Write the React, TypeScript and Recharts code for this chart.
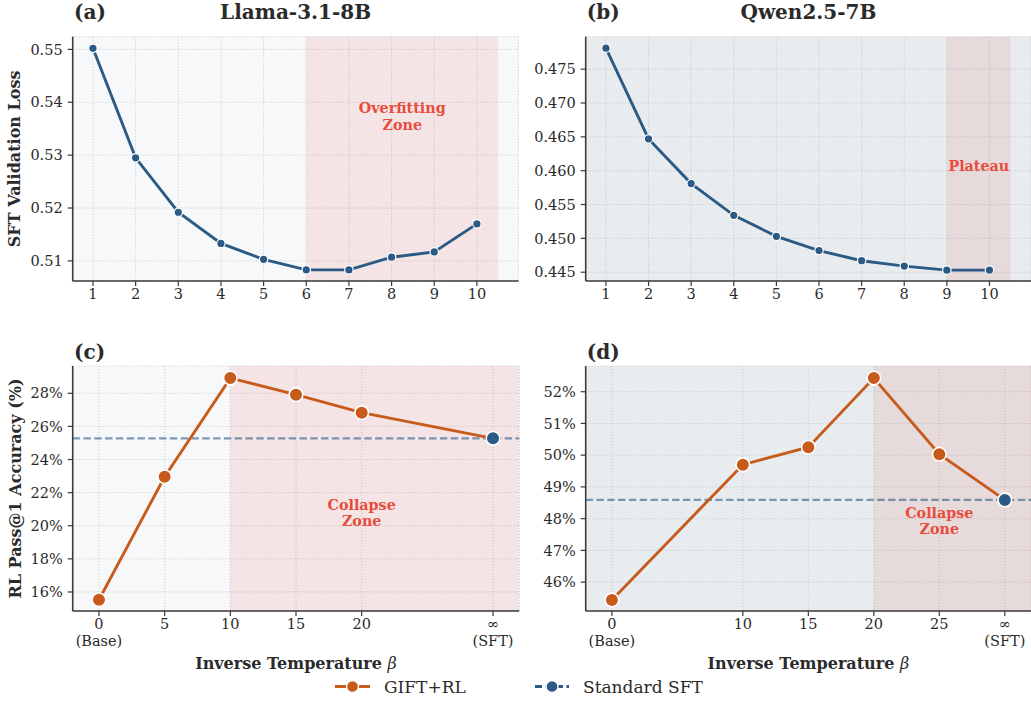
import React from 'react';
import {
  LineChart,
  Line,
  XAxis,
  YAxis,
  CartesianGrid,
  ReferenceArea,
  ReferenceLine,
  ReferenceDot,
} from 'recharts';

// ---------- data ----------
const sftBeta = [1, 2, 3, 4, 5, 6, 7, 8, 9, 10];
const llamaLoss = [0.5502, 0.5295, 0.5192, 0.5133, 0.5103, 0.5083, 0.5083, 0.5107, 0.5117, 0.517];
const qwenLoss = [0.4781, 0.4647, 0.4581, 0.4534, 0.4503, 0.4482, 0.4467, 0.4459, 0.4453, 0.4453];

const infPos = 30; // position of the "∞ (SFT)" tick
const llamaRlBeta = [0, 5, 10, 15, 20];
const llamaGift = [15.53, 22.96, 28.92, 27.92, 26.83];
const llamaSft = 25.28;
const qwenRlBeta = [0, 10, 15, 20, 25];
const qwenGift = [45.44, 49.7, 50.25, 52.43, 50.03];
const qwenSft = 48.59;

const llamaRlTicks = [0, 5, 10, 15, 20, 30];
const qwenRlTicks = [0, 10, 15, 20, 25, 30];
const rlTickLabels: Record<number, string[]> = {
  0: ['0', '(Base)'],
  5: ['5'],
  10: ['10'],
  15: ['15'],
  20: ['20'],
  25: ['25'],
  30: ['∞', '(SFT)'],
};
const llamaLossTicks = [0.51, 0.52, 0.53, 0.54, 0.55];
const qwenLossTicks = [0.445, 0.45, 0.455, 0.46, 0.465, 0.47, 0.475];
const llamaAccTicks = [16, 18, 20, 22, 24, 26, 28];
const qwenAccTicks = [46, 47, 48, 49, 50, 51, 52];

// ---------- style ----------
const BLUE = '#2b5b85';
const ORANGE = '#c75b1c';
const RED = '#e74c3c';
const AXIS = '#3a3a3a';
const TEXT = '#2a2a2a';
const BG_LIGHT = '#f6f8fa';
const BG_GREY = '#e8ecef';
const FONT = "'DejaVu Serif', serif";
const LW = 2.9;

const llamaLossData = sftBeta.map((b, i) => ({ beta: b, loss: llamaLoss[i] }));
const qwenLossData = sftBeta.map((b, i) => ({ beta: b, loss: qwenLoss[i] }));
const llamaRlData = [
  ...llamaRlBeta.map((b, i) => ({ beta: b, gift: llamaGift[i] })),
  { beta: infPos, gift: llamaSft },
];
const qwenRlData = [
  ...qwenRlBeta.map((b, i) => ({ beta: b, gift: qwenGift[i] })),
  { beta: infPos, gift: qwenSft },
];

const tickStyle = { fill: TEXT, fontSize: 14.5, fontFamily: FONT };

const RlTick = (props: any) => {
  const { x, y, payload } = props;
  const lines = rlTickLabels[payload.value] || [String(payload.value)];
  return (
    <text x={x} y={y} textAnchor="middle" fill={TEXT} fontSize={14.5} fontFamily={FONT}>
      {lines.map((l, i) => (
        <tspan key={i} x={x} dy={i === 0 ? '0.71em' : '1.17em'}>
          {l}
        </tspan>
      ))}
    </text>
  );
};

const zoneLabel = (lines: string[]) => (props: any) => {
  const vb = props.viewBox || {};
  const cx = (vb.x || 0) + (vb.width || 0) / 2;
  const cy = (vb.y || 0) + (vb.height || 0) / 2;
  const start = lines.length === 1 ? cy + 5.5 : cy - 2.4;
  return (
    <text textAnchor="middle" fill={RED} fontSize={14.3} fontWeight="bold" fontFamily={FONT}>
      {lines.map((l, i) => (
        <tspan key={i} x={cx} y={start + i * 16.6}>
          {l}
        </tspan>
      ))}
    </text>
  );
};

const yLabel = (value: string) => (props: any) => {
  const vb = props.viewBox || {};
  const x = 15;
  const y = (vb.y || 0) + (vb.height || 0) / 2;
  return (
    <text
      x={x}
      y={y}
      transform={`rotate(-90 ${x} ${y})`}
      textAnchor="middle"
      dominantBaseline="central"
      fill={TEXT}
      fontSize={16}
      fontWeight="bold"
      fontFamily={FONT}
    >
      {value}
    </text>
  );
};

const xLabel = (props: any) => {
  const vb = props.viewBox || {};
  const x = (vb.x || 0) + (vb.width || 0) / 2;
  const y = (vb.y || 0) + 58;
  return (
    <text x={x} y={y} textAnchor="middle" fill={TEXT} fontSize={16} fontWeight="bold" fontFamily={FONT}>
      Inverse Temperature <tspan fontStyle="italic" fontWeight="normal">β</tspan>
    </text>
  );
};

const gridProps = {
  strokeDasharray: '1 2',
  stroke: '#bdbdbd',
  strokeWidth: 0.8,
};

const axisLine = { stroke: AXIS, strokeWidth: 1.6 };
const tickLine = { stroke: AXIS, strokeWidth: 1.2 };

const smallDot = { r: 4.2, fill: BLUE, stroke: '#fff', strokeWidth: 1.2 };

const bigDotExceptLast = (n: number) => (props: any) => {
  const { cx, cy, index } = props;
  if (index === n - 1) return <g key={`d${index}`} />;
  return <circle key={`d${index}`} cx={cx} cy={cy} r={6.8} fill={ORANGE} stroke="#fff" strokeWidth={1.6} />;
};

export default function App() {
  return (
    <div
      style={{
        position: 'absolute',
        left: 0,
        top: 0,
        width: 1031,
        height: 702,
        background: '#fff',
        overflow: 'hidden',
        fontFamily: FONT,
      }}
    >
      {/* (a) Llama SFT loss */}
      <div style={{ position: 'absolute', left: 0, top: 0 }}>
        <LineChart width={520} height={311} data={llamaLossData} margin={{ top: 36.7, right: 1.5, left: 0, bottom: 0 }}>
          <CartesianGrid {...gridProps} fill={BG_LIGHT} />
          <ReferenceArea x1={6} x2={10.5} fill={RED} fillOpacity={0.11} stroke="none" />
          <XAxis
            type="number"
            dataKey="beta"
            domain={[0.525, 10.975]}
            ticks={sftBeta}
            allowDataOverflow
            height={30}
            axisLine={axisLine}
            tickLine={tickLine}
            tickSize={5}
            tickMargin={3}
            tick={tickStyle}
          />
          <YAxis
            type="number"
            domain={[0.5062, 0.5524]}
            ticks={llamaLossTicks}
            allowDataOverflow
            width={72.7}
            axisLine={axisLine}
            tickLine={tickLine}
            tickSize={5}
            tickMargin={5}
            tick={tickStyle}
            tickFormatter={(v: number) => v.toFixed(2)}
            label={{ content: yLabel('SFT Validation Loss') }}
          />
          <ReferenceDot x={8.25} y={0.5375} r={0} fill="none" stroke="none" label={{ content: zoneLabel(['Overfitting', 'Zone']) }} />
          <Line type="linear" dataKey="loss" stroke={BLUE} strokeWidth={LW} dot={smallDot} activeDot={false} isAnimationActive={false} />
        </LineChart>
      </div>

      {/* (b) Qwen SFT loss */}
      <div style={{ position: 'absolute', left: 520, top: 0 }}>
        <LineChart width={511} height={311} data={qwenLossData} margin={{ top: 36.7, right: 0, left: 0, bottom: 0 }}>
          <CartesianGrid {...gridProps} fill={BG_GREY} />
          <ReferenceArea x1={9} x2={10.5} fill={RED} fillOpacity={0.11} stroke="none" />
          <XAxis
            type="number"
            dataKey="beta"
            domain={[0.525, 10.975]}
            ticks={sftBeta}
            allowDataOverflow
            height={30}
            axisLine={axisLine}
            tickLine={tickLine}
            tickSize={5}
            tickMargin={3}
            tick={tickStyle}
          />
          <YAxis
            type="number"
            domain={[0.4437, 0.4798]}
            ticks={qwenLossTicks}
            allowDataOverflow
            width={65.7}
            axisLine={axisLine}
            tickLine={tickLine}
            tickSize={5}
            tickMargin={5}
            tick={tickStyle}
            tickFormatter={(v: number) => v.toFixed(3)}
          />
          <ReferenceDot x={9.75} y={0.4608} r={0} fill="none" stroke="none" label={{ content: zoneLabel(['Plateau']) }} />
          <Line type="linear" dataKey="loss" stroke={BLUE} strokeWidth={LW} dot={smallDot} activeDot={false} isAnimationActive={false} />
        </LineChart>
      </div>

      {/* (c) Llama RL accuracy */}
      <div style={{ position: 'absolute', left: 0, top: 330 }}>
        <LineChart width={520} height={345} data={llamaRlData} margin={{ top: 36, right: 0.7, left: 0, bottom: 0 }}>
          <CartesianGrid {...gridProps} fill={BG_LIGHT} />
          <ReferenceArea x1={10} x2={32} fill={RED} fillOpacity={0.11} stroke="none" />
          <XAxis
            type="number"
            dataKey="beta"
            domain={[-2, 32]}
            ticks={llamaRlTicks}
            allowDataOverflow
            height={64}
            axisLine={axisLine}
            tickLine={tickLine}
            tickSize={5}
            tickMargin={3}
            tick={<RlTick />}
            label={{ content: xLabel }}
          />
          <YAxis
            type="number"
            domain={[14.85, 29.65]}
            ticks={llamaAccTicks}
            allowDataOverflow
            width={72.7}
            axisLine={axisLine}
            tickLine={tickLine}
            tickSize={5}
            tickMargin={5}
            tick={tickStyle}
            tickFormatter={(v: number) => `${v}%`}
            label={{ content: yLabel('RL Pass@1 Accuracy (%)') }}
          />
          <ReferenceLine y={llamaSft} stroke={BLUE} strokeOpacity={0.6} strokeWidth={2.2} strokeDasharray="7.4 3.4" />
          <ReferenceDot x={20} y={20.82} r={0} fill="none" stroke="none" label={{ content: zoneLabel(['Collapse', 'Zone']) }} />
          <Line
            type="linear"
            dataKey="gift"
            stroke={ORANGE}
            strokeWidth={LW}
            dot={bigDotExceptLast(llamaRlData.length)}
            activeDot={false}
            isAnimationActive={false}
          />
          <Line
            type="linear"
            data={[{ beta: infPos, sft: llamaSft }]}
            dataKey="sft"
            stroke="none"
            dot={{ r: 6.8, fill: BLUE, stroke: '#fff', strokeWidth: 1.6 }}
            activeDot={false}
            isAnimationActive={false}
          />
        </LineChart>
      </div>

      {/* (d) Qwen RL accuracy */}
      <div style={{ position: 'absolute', left: 520, top: 330 }}>
        <LineChart width={511} height={345} data={qwenRlData} margin={{ top: 36, right: 0, left: 0, bottom: 0 }}>
          <CartesianGrid {...gridProps} fill={BG_GREY} />
          <ReferenceArea x1={20} x2={32} fill={RED} fillOpacity={0.11} stroke="none" />
          <XAxis
            type="number"
            dataKey="beta"
            domain={[-2, 32]}
            ticks={qwenRlTicks}
            allowDataOverflow
            height={64}
            axisLine={axisLine}
            tickLine={tickLine}
            tickSize={5}
            tickMargin={3}
            tick={<RlTick />}
            label={{ content: xLabel }}
          />
          <YAxis
            type="number"
            domain={[45.09, 52.81]}
            ticks={qwenAccTicks}
            allowDataOverflow
            width={65.7}
            axisLine={axisLine}
            tickLine={tickLine}
            tickSize={5}
            tickMargin={5}
            tick={tickStyle}
            tickFormatter={(v: number) => `${v}%`}
          />
          <ReferenceLine y={qwenSft} stroke={BLUE} strokeOpacity={0.6} strokeWidth={2.2} strokeDasharray="7.4 3.4" />
          <ReferenceDot x={25} y={47.95} r={0} fill="none" stroke="none" label={{ content: zoneLabel(['Collapse', 'Zone']) }} />
          <Line
            type="linear"
            dataKey="gift"
            stroke={ORANGE}
            strokeWidth={LW}
            dot={bigDotExceptLast(qwenRlData.length)}
            activeDot={false}
            isAnimationActive={false}
          />
          <Line
            type="linear"
            data={[{ beta: infPos, sft: qwenSft }]}
            dataKey="sft"
            stroke="none"
            dot={{ r: 6.8, fill: BLUE, stroke: '#fff', strokeWidth: 1.6 }}
            activeDot={false}
            isAnimationActive={false}
          />
        </LineChart>
      </div>

      {/* titles & legend */}
      <svg
        width={1031}
        height={702}
        style={{ position: 'absolute', left: 0, top: 0, pointerEvents: 'none' }}
        fontFamily={FONT}
      >
        <text x={74} y={19.3} fontSize={20} fontWeight="bold" fill={TEXT}>(a)</text>
        <text x={295.6} y={19.3} fontSize={20} fontWeight="bold" fill={TEXT} textAnchor="middle">Llama-3.1-8B</text>
        <text x={586.7} y={19.3} fontSize={20} fontWeight="bold" fill={TEXT}>(b)</text>
        <text x={808.4} y={19.3} fontSize={20} fontWeight="bold" fill={TEXT} textAnchor="middle">Qwen2.5-7B</text>
        <text x={74} y={359} fontSize={20} fontWeight="bold" fill={TEXT}>(c)</text>
        <text x={586.7} y={359} fontSize={20} fontWeight="bold" fill={TEXT}>(d)</text>

        <g>
          <line x1={335} y1={686.5} x2={370} y2={686.5} stroke={ORANGE} strokeWidth={LW} />
          <circle cx={352.5} cy={686.5} r={6} fill={ORANGE} stroke="#fff" strokeWidth={1.4} />
          <text x={384} y={686.5} dominantBaseline="central" fontSize={17} fill={TEXT}>GIFT+RL</text>
        </g>
        <g>
          <line x1={535} y1={686.5} x2={569} y2={686.5} stroke={BLUE} strokeWidth={LW} strokeDasharray="7 3.5" />
          <circle cx={552} cy={686.5} r={6} fill={BLUE} stroke="#fff" strokeWidth={1.4} />
          <text x={583} y={686.5} dominantBaseline="central" fontSize={17} fill={TEXT}>Standard SFT</text>
        </g>
      </svg>
    </div>
  );
}
